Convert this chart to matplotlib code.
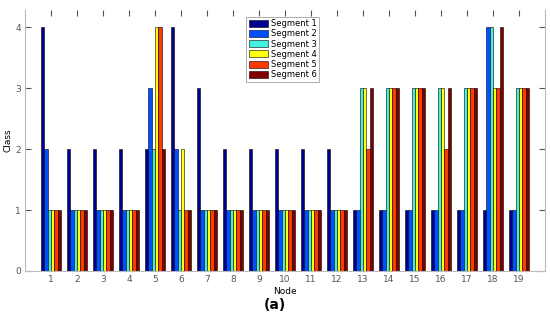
import matplotlib.pyplot as plt
import numpy as np

nodes = list(range(1, 20))
segment_names = ["Segment 1", "Segment 2", "Segment 3", "Segment 4", "Segment 5", "Segment 6"]
seg1 = [4, 2, 2, 2, 2, 4, 3, 2, 2, 2, 2, 2, 1, 1, 1, 1, 1, 1, 1]
seg2 = [2, 1, 1, 1, 3, 2, 1, 1, 1, 1, 1, 1, 1, 1, 1, 1, 1, 4, 1]
seg3 = [1, 1, 1, 1, 2, 1, 1, 1, 1, 1, 1, 1, 3, 3, 3, 3, 3, 4, 3]
seg4 = [1, 1, 1, 1, 4, 2, 1, 1, 1, 1, 1, 1, 3, 3, 3, 3, 3, 3, 3]
seg5 = [1, 1, 1, 1, 4, 1, 1, 1, 1, 1, 1, 1, 2, 3, 3, 2, 3, 3, 3]
seg6 = [1, 1, 1, 1, 2, 1, 1, 1, 1, 1, 1, 1, 3, 3, 3, 3, 3, 4, 3]
colors = ["#00008f", "#0050ff", "#40f0e0", "#ffff10", "#ff3a00", "#800000"]

series = [seg1, seg2, seg3, seg4, seg5, seg6]

fig = plt.figure(figsize=(5.5, 3.23), dpi=100)
ax = fig.add_axes([25 / 550, 1 - 271 / 323, 520 / 550, 261 / 323])

x = np.array(nodes, dtype=float)
w = 0.8 / 6
for i, (vals, name, c) in enumerate(zip(series, segment_names, colors)):
    ax.bar(x + (i - 2.5) * w, vals, width=w, color=c, edgecolor="black",
           linewidth=0.4, label=name)

ax.set_xlim(0, 20)
ax.set_ylim(0, 4.28)
ax.set_xticks(nodes)
ax.set_yticks([0, 1, 2, 3, 4])
ax.tick_params(direction="in", length=4, labelsize=6.5, colors="#555555",
               top=True, right=True, pad=3)
for s in ax.spines.values():
    s.set_color("#bbbbbb")
    s.set_linewidth(0.8)
ax.spines["top"].set_visible(False)
ax.set_xlabel("Node", fontsize=6.5, labelpad=2)
ax.set_ylabel("Class", fontsize=6.5, labelpad=2)

leg = ax.legend(loc="upper left", bbox_to_anchor=(0.425, 0.975), fontsize=6,
                frameon=True, fancybox=False, handlelength=2.3, handleheight=0.9,
                borderpad=0.3, labelspacing=0.15, handletextpad=0.4,
                borderaxespad=0)
leg.get_frame().set_edgecolor("#888888")
leg.get_frame().set_linewidth(0.6)

fig.text(0.5, 1 - 305 / 323, "(a)", ha="center", va="center", fontsize=10,
         fontweight="bold")

fig.savefig("out.png", dpi=100)
